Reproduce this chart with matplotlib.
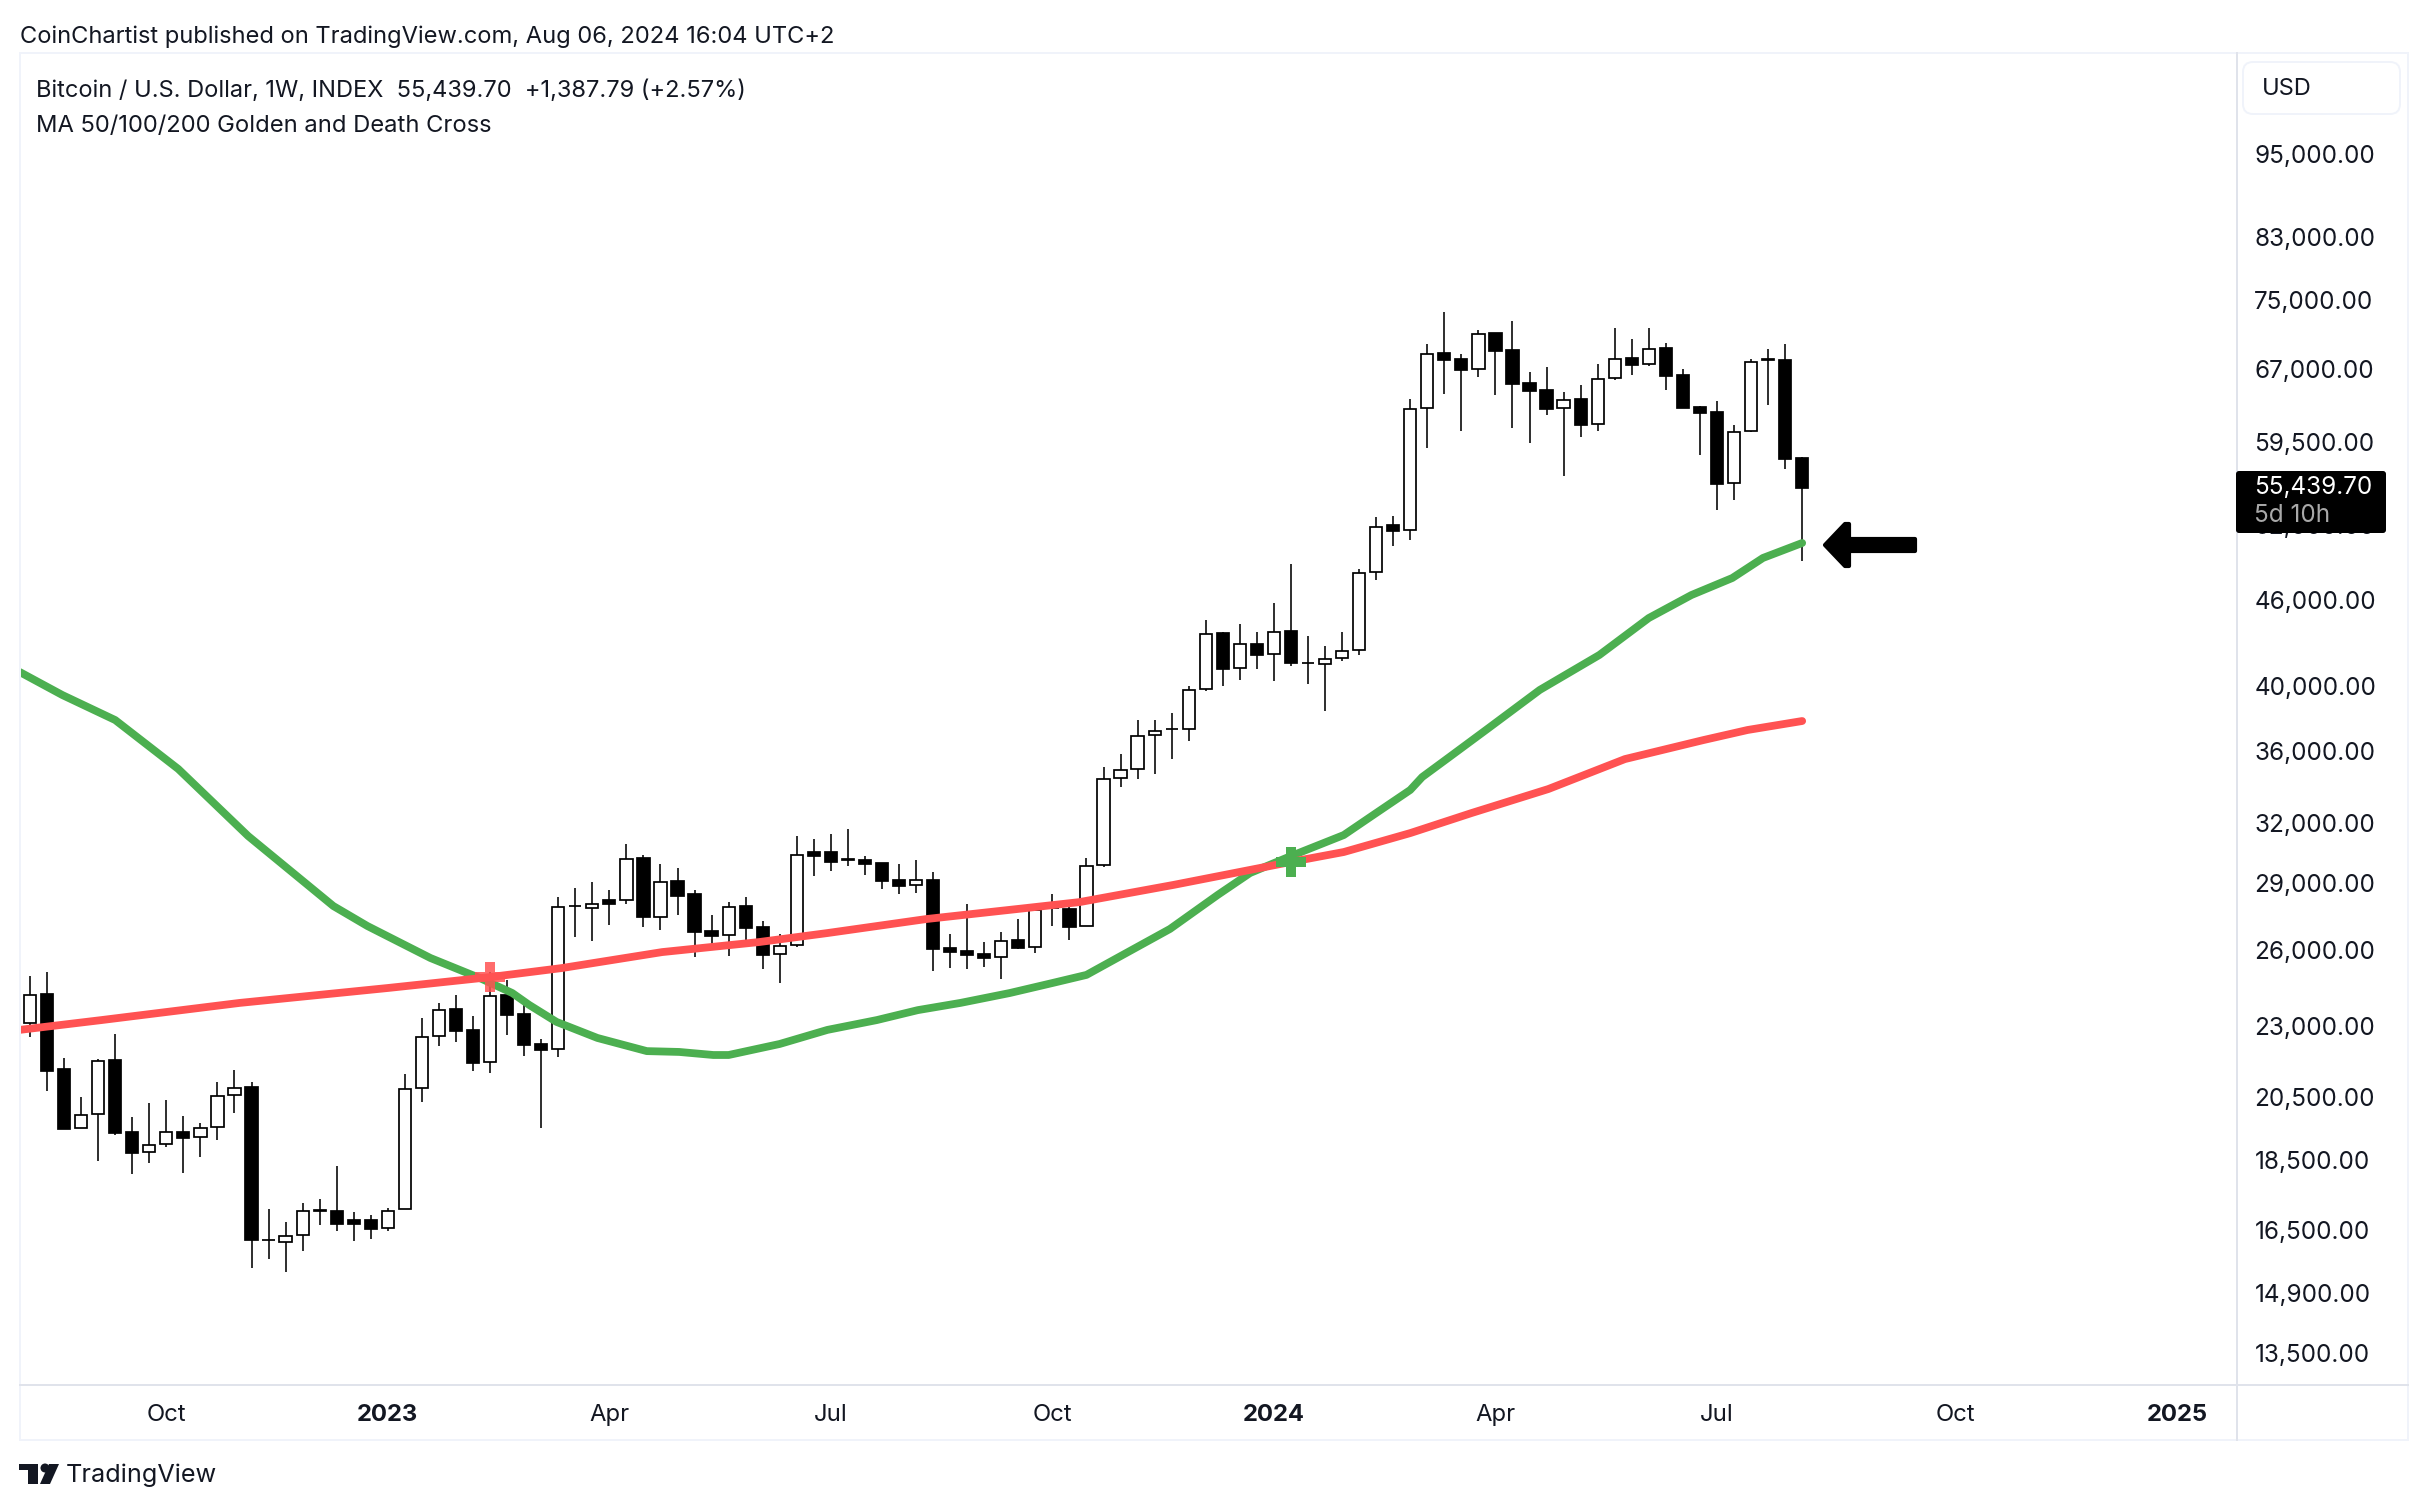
import matplotlib
matplotlib.use("Agg")
import matplotlib.pyplot as plt
from matplotlib.lines import Line2D
from matplotlib.patches import FancyBboxPatch, Polygon, Circle
import matplotlib.transforms as mt

# Weekly BTC/USD candles, one value per week
highs=[25060,25230,21930,20580,21900,22810,19920,20380,20480,19960,19730,21090,21510,21090,17150,16790,17320,17430,18400,17070,16990,17180,21370,23410,23990,24300,23480,25230,24900,23910,22620,28500,28920,29210,28830,31070,30520,30080,29880,28830,27680,28270,28500,27410,26840,31480,31330,31580,31840,30470,30130,30080,30270,29690,26840,28180,26490,26930,27500,28140,28640,28040,30370,35220,35980,38020,38020,38460,40190,44740,43880,44450,43880,46000,49020,43590,42890,43880,48620,52910,53000,64120,70120,73870,68990,71740,71390,72800,67000,67550,64850,65600,67880,71970,70700,71970,70240,67330,63390,63910,61460,68430,69560,70120,58340]
lows=[22700,20790,19540,19570,18550,19350,18160,18490,18970,18190,18670,19190,20050,15580,15810,15480,16020,16710,16550,16280,16340,16550,17150,20420,22360,22510,21470,21400,22770,22000,19570,21970,26710,26530,27230,28180,27150,27010,27680,25850,26360,25890,26530,25350,24780,26280,29500,29740,29980,29540,28880,28640,28690,25270,25390,25350,25430,24940,26190,26020,27190,26580,27190,29930,34090,34540,34820,35680,36740,39860,40190,40580,41310,40510,41520,40320,38580,41860,42270,47750,50470,50970,59200,64640,60860,66460,64540,61160,59690,62470,56560,60270,60860,66130,66670,67660,65060,63190,58530,53520,54400,60760,63490,57210,49260]
opens=[23220,24340,21540,19570,20020,21860,19440,18820,19070,19440,19290,19600,20650,20920,16320,16260,16440,17120,17100,16850,16850,16630,17150,20890,22730,23750,22960,21790,24300,23560,22440,22260,28110,28000,28370,28370,30370,27590,29260,28640,26970,26790,28090,27150,25980,26360,30670,30670,30300,30270,30130,29300,29070,29300,26230,26110,25980,25850,26580,26280,28020,27950,27190,30030,34600,35110,37110,37500,37470,39990,43810,41380,43030,42340,43950,41750,41650,42060,42610,48380,52230,51800,63190,69100,68430,67330,71390,69440,65810,65060,63190,64120,61560,66350,68540,67880,69670,66670,63290,62780,55920,60860,68380,68320,58250]
closes=[24300,21470,19540,19990,21830,19410,18790,19040,19440,19250,19570,20620,20890,16310,16300,16420,17100,17110,16740,16740,16600,17100,20850,22700,23710,22920,21750,24260,23520,22400,22220,28040,28070,28180,28180,30320,27590,29210,28550,26930,26750,28040,27100,25940,26320,30520,30470,30180,30250,30080,29260,29020,29300,26190,26060,25940,25810,26530,26230,27910,27980,27150,29980,34540,35050,37050,37350,37440,39930,43740,41310,43030,42270,43880,41720,41690,41990,42540,48300,52060,51720,63080,68990,68320,67220,71270,69330,65700,64960,63080,64010,61460,66240,68430,67770,69560,66560,63190,62670,55830,60760,68100,68270,58150,55439.7]

ma50_x=[-0.6,1.9,5.0,8.7,12.8,17.8,19.8,23.5,26.4,28.3,29.3,30.9,33.3,36.2,38.1,40.1,41.0,44.0,46.8,49.7,52.1,54.6,57.5,60.0,62.0,63.8,66.9,69.7,71.6,74.0,77.1,79.0,81.0,81.7,83.3,85.6,88.6,92.1,95.0,97.5,99.9,101.7,104.0]
ma50=[41110,39600,38020,35110,31480,28090,27190,25810,24980,24380,23910,23260,22660,22180,22150,22040,22040,22440,22960,23330,23710,23990,24380,24780,25110,25810,27060,28600,29640,30470,31530,32680,33930,34650,35800,37530,39930,42270,44890,46600,47910,49500,50720]
ma200_x=[-0.6,4.2,12.3,21.0,27.0,31.2,37.1,42.8,46.8,52.6,58.5,61.6,67.1,74.0,77.1,81.0,84.6,89.1,93.6,98.2,100.8,104.0]
ma200=[22960,23330,23990,24580,25020,25390,26060,26490,26880,27500,28000,28270,29070,30180,30670,31630,32680,33980,35680,36800,37410,37960]
price_ticks=[95000,83000,75000,67000,59500,52000,46000,40000,36000,32000,29000,26000,23000,20500,18500,16500,14900,13500]
time_pos=[8,21,34,47,60,73,86,99,113,126]
time_labels=["Oct","2023","Apr","Jul","Oct","2024","Apr","Jul","Oct","2025"]
death_cross=(27,25020); golden_cross=(74,30180)

W,H=2428,1510
INK="#131722"
plt.rcParams["font.family"]=["Inter","DejaVu Sans"]
fig=plt.figure(figsize=(W/100,H/100),dpi=100,facecolor="white")
def fx(x): return x/W
def fy(y): return 1-y/H
ax=fig.add_axes([fx(20),fy(1385),fx(2237-20),(1385-53)/H])
ax.set_yscale("log"); ax.set_xlim(-0.587,129.519); ax.set_ylim(12880,112614)
for s in ax.spines.values(): s.set_visible(False)
n=range(len(opens))
ax.vlines(list(n),lows,highs,color="black",lw=1.15,zorder=2)
for i in n:
    up=closes[i]>=opens[i]
    b=min(opens[i],closes[i]); h=abs(opens[i]-closes[i])
    ax.bar(i,h,bottom=b,width=0.72,facecolor="white" if up else "black",edgecolor="black",lw=1.25,zorder=2.5)
ax.plot(ma50_x,ma50,color="#4CAF50",lw=5.6,solid_capstyle="round",zorder=3)
ax.plot([death_cross[0]],[death_cross[1]],marker="+",ms=21.6,mew=7.2,color="#FF5252",alpha=.85,zorder=3.5,ls="none")
ax.plot(ma200_x,ma200,color="#FF5252",lw=5.6,solid_capstyle="round",zorder=4)
ax.plot([golden_cross[0]],[golden_cross[1]],marker="+",ms=21.6,mew=7.2,color="#4CAF50",zorder=5,ls="none")
ax.yaxis.tick_right()
ax.set_yticks(price_ticks,[f"{v:,.2f}" for v in price_ticks])
ax.set_yticks([],minor=True)
ax.tick_params(axis="y",length=0,pad=12.5,labelsize=17.5,labelcolor=INK)
shift=mt.ScaledTranslation(0,3/100,fig.dpi_scale_trans)
for t in ax.get_yticklabels(): t.set_transform(t.get_transform()+shift)
ax.set_xticks(time_pos,time_labels)
ax.tick_params(axis="x",length=0,pad=13.5,labelsize=17.2,labelcolor=INK)
for t,l in zip(ax.get_xticklabels(),time_labels):
    if l.startswith("20"): t.set_fontweight("bold")
def hl(x0,x1,y,c,w=2): fig.add_artist(Line2D([fx(x0),fx(x1)],[fy(y),fy(y)],color=c,lw=w*.72))
def vl(x,y0,y1,c,w=2): fig.add_artist(Line2D([fx(x),fx(x)],[fy(y0),fy(y1)],color=c,lw=w*.72))
hl(20,2408,53,"#F0F3FA"); hl(20,2408,1440,"#F0F3FA"); vl(20,53,1440,"#F0F3FA"); vl(2408,53,1440,"#F0F3FA")
hl(20,2408,1385,"#E0E3EB"); vl(2237,53,1440,"#E0E3EB")
fig.text(fx(20),fy(37),"CoinChartist published on TradingView.com, Aug 06, 2024 16:04 UTC+2",fontsize=17.05,color=INK,va="center")
fig.text(fx(36),fy(91),"Bitcoin / U.S. Dollar, 1W, INDEX  55,439.70  +1,387.79 (+2.57%)",fontsize=17,color=INK,va="center")
fig.text(fx(36),fy(126),"MA 50/100/200 Golden and Death Cross",fontsize=17.1,color=INK,va="center")
px=mt.Affine2D().scale(1/W,-1/H).translate(0,1)+fig.transFigure
fig.add_artist(FancyBboxPatch((2243+6,62+6),157-12,52-12,boxstyle="round,pad=6,rounding_size=10",transform=px,fc="white",ec="#F0F3FA",lw=1.4))
fig.text(fx(2262),fy(89),"USD",fontsize=17,color=INK,va="center")
fig.add_artist(FancyBboxPatch((2236,471),150,62,boxstyle="round,pad=0,rounding_size=3",transform=px,fc="black",ec="black",lw=0,zorder=2))
fig.text(fx(2254),fy(487),"55,439.70",fontsize=17.5,color="white",va="center",zorder=3)
fig.text(fx(2254),fy(515),"5d 10h",fontsize=17.5,color="#A8A8A8",va="center",zorder=3)
arrow=[(1825,545),(1845,524),(1849,524),(1849,539),(1915,539),(1915,551),(1849,551),(1849,566),(1845,566)]
fig.add_artist(Polygon(arrow,closed=True,transform=px,fc="black",ec="black",lw=3,joinstyle="round"))
fig.add_artist(Polygon([(19,1464),(38,1464),(38,1484),(28,1484),(28,1470),(19,1470)],closed=True,transform=px,fc=INK,ec="none"))
fig.add_artist(Circle((45,1468),4.5,transform=px,fc=INK,ec="none"))
fig.add_artist(Polygon([(49,1464),(59,1464),(50,1484),(40,1484)],closed=True,transform=px,fc=INK,ec="none"))
fig.text(fx(66),fy(1475),"TradingView",fontsize=18.2,color=INK,va="center")
fig.savefig("out.png",dpi=100)
